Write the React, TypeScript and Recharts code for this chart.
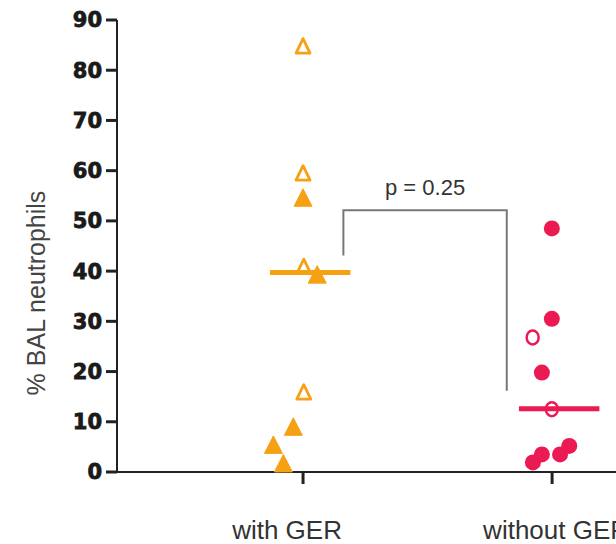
import { ComposedChart, Line, Scatter, XAxis, YAxis, ReferenceDot } from "recharts";

const categories = ["with GER", "without GER"];
const yTicks = [0, 10, 20, 30, 40, 50, 60, 70, 80, 90];

// x = group position (1 or 2) plus the jitter seen in the plot
const gerFilled = [
  { x: 1.0, y: 54.4 },
  { x: 1.057, y: 39.1 },
  { x: 0.961, y: 8.8 },
  { x: 0.881, y: 5.2 },
  { x: 0.921, y: 1.5 },
];
const gerOpen = [
  { x: 1.0, y: 84.7 },
  { x: 1.0, y: 59.4 },
  { x: 1.003, y: 40.8 },
  { x: 1.003, y: 15.8 },
];
const noGerFilled = [
  { x: 1.999, y: 48.5 },
  { x: 1.999, y: 30.5 },
  { x: 1.959, y: 19.8 },
  { x: 1.923, y: 1.9 },
  { x: 1.959, y: 3.5 },
  { x: 2.032, y: 3.5 },
  { x: 2.069, y: 5.2 },
];
const noGerOpen = [
  { x: 1.922, y: 26.8 },
  { x: 1.999, y: 12.5 },
];
const medians = [39.7, 12.6];
const bracket = [
  { x: 1.162, y: 43.1 },
  { x: 1.162, y: 52.1 },
  { x: 1.818, y: 52.1 },
  { x: 1.818, y: 16.2 },
];
const pLabel = "p = 0.25";

const ORANGE = "#F6A114";
const PINK = "#EC1A52";
const medianSpan = [-0.133, 0.19];
const labelShift = [-16, 4];

const FilledTri = (p: any) => (
  <polygon
    points={`${p.cx},${p.cy - 10} ${p.cx + 9},${p.cy + 7.5} ${p.cx - 9},${p.cy + 7.5}`}
    fill={ORANGE}
    stroke={ORANGE}
    strokeWidth={1}
    strokeLinejoin="round"
  />
);
const OpenTri = (p: any) => (
  <polygon
    points={`${p.cx},${p.cy - 8} ${p.cx + 7},${p.cy + 6.5} ${p.cx - 7},${p.cy + 6.5}`}
    fill="none"
    stroke={ORANGE}
    strokeWidth={2.8}
    strokeLinejoin="round"
  />
);
const FilledDot = (p: any) => <circle cx={p.cx} cy={p.cy} r={8} fill={PINK} />;
const OpenDot = (p: any) => (
  <ellipse cx={p.cx} cy={p.cy} rx={6} ry={7} fill="none" stroke={PINK} strokeWidth={2.5} />
);

const XTick = (p: any) => {
  const i = p.index;
  return (
    <text
      x={p.x + labelShift[i]}
      y={p.y + 55}
      textAnchor="middle"
      fontFamily="Liberation Sans, Arial, sans-serif"
      fontSize={26}
      fill="#333"
    >
      {categories[i]}
    </text>
  );
};

const YLabel = (p: any) => {
  const vb = p.viewBox;
  const x = vb.x + 36;
  const y = vb.y + vb.height / 2 + 47;
  return (
    <text
      x={x}
      y={y}
      transform={`rotate(-90, ${x}, ${y})`}
      textAnchor="middle"
      dominantBaseline="central"
      fontFamily="Liberation Sans, Arial, sans-serif"
      fontSize={25}
      fill="#444"
    >
      % BAL neutrophils
    </text>
  );
};

export default function App() {
  return (
    <div style={{ position: "absolute", left: 0, top: 0, width: 616, height: 544, overflow: "hidden", background: "#fff" }}>
      <ComposedChart width={650} height={544} margin={{ top: 20, right: 10, left: 0, bottom: 0 }}>
        <XAxis
          dataKey="x"
          type="number"
          domain={[0.253, 2.353]}
          allowDataOverflow
          ticks={[1, 2]}
          tickSize={12}
          tickMargin={0}
          height={72}
          stroke="#222"
          strokeWidth={2}
          tickLine={{ stroke: "#222", strokeWidth: 3 }}
          tick={<XTick />}
        />
        <YAxis
          type="number"
          domain={[0, 90]}
          ticks={yTicks}
          width={117}
          tickSize={11}
          tickMargin={4}
          stroke="#222"
          strokeWidth={2}
          tickLine={{ stroke: "#222", strokeWidth: 3 }}
          tick={{
            fontFamily: "DejaVu Sans, sans-serif",
            fontWeight: "bold",
            fontSize: 21,
            fill: "#1a1a1a",
            stroke: "#1a1a1a",
            strokeWidth: 0.8,
          }}
          label={{ content: <YLabel /> }}
        />
        {medians.map((m, i) => (
          <Line
            key={i}
            data={[
              { x: i + 1 + medianSpan[0], y: m },
              { x: i + 1 + medianSpan[1], y: m },
            ]}
            dataKey="y"
            stroke={i === 0 ? ORANGE : PINK}
            strokeWidth={5}
            dot={false}
            isAnimationActive={false}
          />
        ))}
        <Line
          data={bracket}
          dataKey="y"
          type="linear"
          stroke="#777"
          strokeWidth={2}
          dot={false}
          isAnimationActive={false}
        />
        <ReferenceDot
          x={(bracket[1].x + bracket[2].x) / 2}
          y={bracket[1].y}
          r={0}
          stroke="none"
          fill="none"
          label={{
            value: pLabel,
            position: "top",
            offset: 15,
            fontFamily: "Liberation Sans, Arial, sans-serif",
            fontSize: 22,
            fill: "#333",
          }}
        />
        <Scatter data={gerOpen} dataKey="y" shape={<OpenTri />} isAnimationActive={false} />
        <Scatter data={gerFilled} dataKey="y" shape={<FilledTri />} isAnimationActive={false} />
        <Scatter data={noGerOpen} dataKey="y" shape={<OpenDot />} isAnimationActive={false} />
        <Scatter data={noGerFilled} dataKey="y" shape={<FilledDot />} isAnimationActive={false} />
      </ComposedChart>
    </div>
  );
}
